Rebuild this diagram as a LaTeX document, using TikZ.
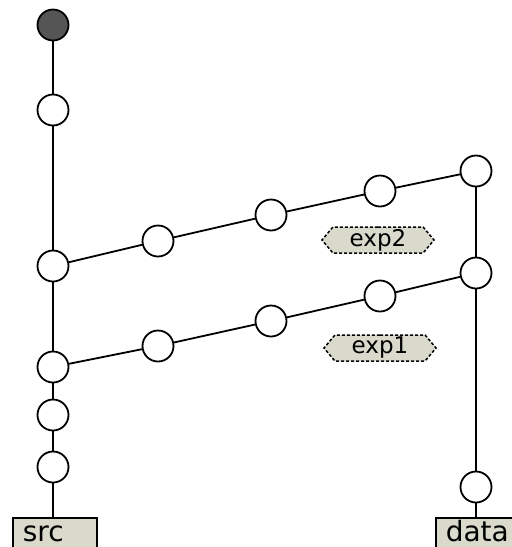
\documentclass[tikz,border=0pt]{standalone}
\usepackage{fontspec}
\setmainfont{DejaVu Sans}
\usetikzlibrary{shapes.symbols}
\definecolor{boxfill}{HTML}{D9D9CC}
\definecolor{darkdot}{HTML}{555555}
\tikzset{
  x=1pt,y=-1pt,
  commit/.style={circle,draw,line width=1.8pt,fill=white,minimum size=31pt,inner sep=0pt},
  headcommit/.style={commit,fill=darkdot},
  branchbox/.style={draw,line width=1.6pt,fill=boxfill,anchor=north west,inner ysep=0pt,inner xsep=10pt,text width=64pt,align=left,text height=24pt,text depth=20pt,font=\fontsize{28pt}{28pt}\selectfont},
  explabel/.style={signal,signal to=west and east,signal pointer angle=100,draw,dash pattern=on 3pt off 2pt,line width=1.5pt,fill=boxfill,minimum width=112pt,minimum height=26pt,inner sep=1pt,font=\fontsize{23pt}{23pt}\selectfont},
  link/.style={line width=1.8pt}
}
\begin{document}
\begin{tikzpicture}
\useasboundingbox (0,0) rectangle (512,547);
\begin{scope}
\clip (0,0) rectangle (512,547);
\node[branchbox] (src) at (12,517) {src};
\node[branchbox] (data) at (435,517) {data};
\end{scope}
% left column
\node[headcommit] (h) at (53,25) {};
\node[commit] (a1) at (53,110) {};
\node[commit] (a2) at (53,266) {};
\node[commit] (a3) at (53,367) {};
\node[commit] (a4) at (53,415) {};
\node[commit] (a5) at (53,467) {};
% upper branch
\node[commit] (u1) at (158,241) {};
\node[commit] (u2) at (271,215) {};
\node[commit] (u3) at (380,191) {};
\node[commit] (r1) at (476,171) {};
% lower branch
\node[commit] (l1) at (158,346) {};
\node[commit] (l2) at (271,321) {};
\node[commit] (l3) at (380,296) {};
\node[commit] (r2) at (476,273) {};
\node[commit] (r3) at (476,487) {};
% labels
\node[explabel] (e2) at (378,240) {exp2};
\node[explabel] (e1) at (380,348) {exp1};
% connectors
\coordinate (srctop) at (53,517);
\coordinate (datatop) at (476,517);
\draw[link] (h) -- (a1);
\draw[link] (a1) -- (a2);
\draw[link] (a2) -- (a3);
\draw[link] (a3) -- (a4);
\draw[link] (a4) -- (a5);
\draw[link] (a5) -- (srctop);
\draw[link] (a2) -- (u1);
\draw[link] (u1) -- (u2);
\draw[link] (u2) -- (u3);
\draw[link] (u3) -- (r1);
\draw[link] (a3) -- (l1);
\draw[link] (l1) -- (l2);
\draw[link] (l2) -- (l3);
\draw[link] (l3) -- (r2);
\draw[link] (r1) -- (r2);
\draw[link] (r2) -- (r3);
\draw[link] (r3) -- (datatop);
\end{tikzpicture}
\end{document}
